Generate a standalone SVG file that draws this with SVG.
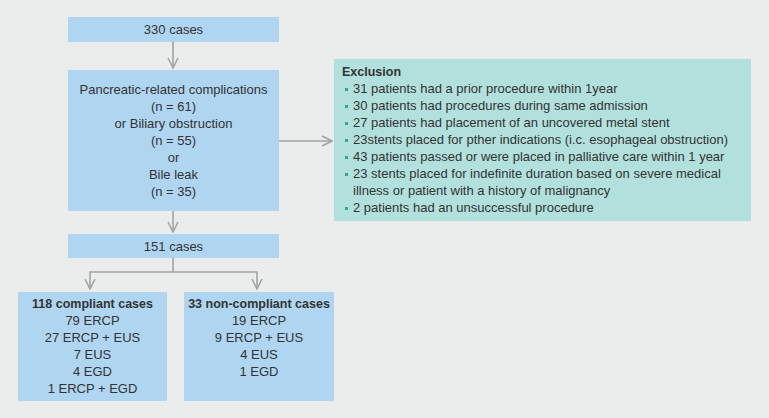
<svg xmlns="http://www.w3.org/2000/svg" width="769" height="418" viewBox="0 0 769 418">
<defs>
<style>
.bg{fill:#ebecec}
.blue{fill:#afd5f1}
.teal{fill:#b2e0dc}
text{font-family:"Liberation Sans",Arial,sans-serif;font-size:13px;fill:#333}
.c{text-anchor:middle}
.b{font-weight:bold;font-size:12.5px}
.bul{fill:#2fa898}
.con{stroke:#a3a3a3;stroke-width:1.6;fill:none}
</style>
<marker id="ah" viewBox="0 0 12 12" refX="11" refY="6" markerWidth="12" markerHeight="12" markerUnits="userSpaceOnUse" orient="auto">
<path d="M1,1 L11,6 L1,11" fill="none" stroke="#a3a3a3" stroke-width="1.6"/>
</marker>
</defs>
<rect class="bg" x="0" y="0" width="769" height="418"/>
<g id="connectors">
<line class="con" x1="173" y1="42" x2="173" y2="68" marker-end="url(#ah)"/>
<line class="con" x1="279" y1="141" x2="332" y2="141" marker-end="url(#ah)"/>
<line class="con" x1="173" y1="211" x2="173" y2="232" marker-end="url(#ah)"/>
<polyline class="con" points="173,258 173,272 90,272 90,289" marker-end="url(#ah)"/>
<polyline class="con" points="173,272 257,272 257,289" marker-end="url(#ah)"/>
</g>
<g id="n330">
<rect class="blue" x="68" y="17" width="211" height="25"/>
<text class="c" x="173.5" y="34">330 cases</text>
</g>
<g id="ncomp">
<rect class="blue" x="68" y="70" width="211" height="141"/>
<text class="c" x="173.5" y="94">Pancreatic-related complications</text>
<text class="c" x="173.5" y="111">(n = 61)</text>
<text class="c" x="173.5" y="128">or Biliary obstruction</text>
<text class="c" x="173.5" y="145">(n = 55)</text>
<text class="c" x="173.5" y="162">or</text>
<text class="c" x="173.5" y="179">Bile leak</text>
<text class="c" x="173.5" y="196">(n = 35)</text>
</g>
<g id="nexcl">
<rect class="teal" x="334" y="59" width="417" height="162"/>
<text class="b" x="342" y="76">Exclusion</text>
<rect class="bul" x="345" y="88" width="3" height="3"/>
<text x="353" y="93">31 patients had a prior procedure within 1year</text>
<rect class="bul" x="345" y="105" width="3" height="3"/>
<text x="353" y="110">30 patients had procedures during same admission</text>
<rect class="bul" x="345" y="122" width="3" height="3"/>
<text x="353" y="127">27 patients had placement of an uncovered metal stent</text>
<rect class="bul" x="345" y="139" width="3" height="3"/>
<text x="353" y="144">23stents placed for pther indications (i.c. esophageal obstruction)</text>
<rect class="bul" x="345" y="156" width="3" height="3"/>
<text x="353" y="161">43 patients passed or were placed in palliative care within 1 year</text>
<rect class="bul" x="345" y="173" width="3" height="3"/>
<text x="353" y="178">23 stents placed for indefinite duration based on severe medical</text>
<text x="353" y="195">illness or patient with a history of malignancy</text>
<rect class="bul" x="345" y="207" width="3" height="3"/>
<text x="353" y="212">2 patients had an unsuccessful procedure</text>
</g>
<g id="n151">
<rect class="blue" x="68" y="234" width="211" height="24"/>
<text class="c" x="173.5" y="251">151 cases</text>
</g>
<g id="ncompliant">
<rect class="blue" x="18" y="292" width="149" height="109"/>
<text class="c b" x="92.5" y="308">118 compliant cases</text>
<text class="c" x="92.5" y="325">79 ERCP</text>
<text class="c" x="92.5" y="342">27 ERCP + EUS</text>
<text class="c" x="92.5" y="359">7 EUS</text>
<text class="c" x="92.5" y="376">4 EGD</text>
<text class="c" x="92.5" y="393">1 ERCP + EGD</text>
</g>
<g id="nnoncompliant">
<rect class="blue" x="184" y="292" width="150" height="109"/>
<text class="c b" x="259" y="308">33 non-compliant cases</text>
<text class="c" x="259" y="325">19 ERCP</text>
<text class="c" x="259" y="342">9 ERCP + EUS</text>
<text class="c" x="259" y="359">4 EUS</text>
<text class="c" x="259" y="376">1 EGD</text>
</g>
</svg>
